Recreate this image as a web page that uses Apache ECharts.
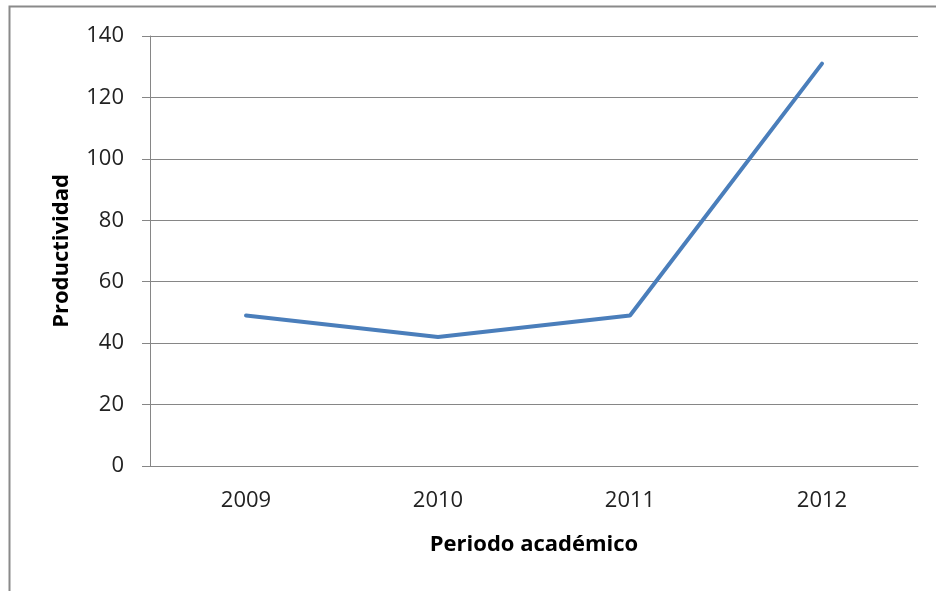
<!DOCTYPE html>
<html>
<head>
<meta charset="utf-8">
<script src="https://cdn.jsdelivr.net/npm/echarts@6/dist/echarts.min.js"></script>
<style>
  html, body { margin: 0; padding: 0; background: #fff; }
  #chart { width: 936px; height: 591px; }
</style>
</head>
<body>
<div id="chart"></div>
<script>
// datos del gráfico
const periodos = ['2009', '2010', '2011', '2012']
const productividad = [49, 42, 49, 131]
const yTicks = [0, 20, 40, 60, 80, 100, 120, 140]

let chart = echarts.init(document.getElementById('chart'))
chart.setOption({
  animation: false,
  graphic: [
    {
      type: 'polyline',
      shape: { points: [[9.5, 600], [9.5, 6.5], [940, 6.5]] },
      style: { stroke: '#8a8a8a', lineWidth: 2, fill: null }
    }
  ],
  grid: { left: 150, top: 36, width: 768, height: 430 },
  xAxis: {
    type: 'category',
    data: periodos,
    boundaryGap: true,
    name: 'Periodo académico',
    nameLocation: 'middle',
    nameGap: 68,
    nameTextStyle: { fontFamily: 'Open Sans', fontWeight: 'bold', fontSize: 22, color: '#000' },
    axisLine: { lineStyle: { color: '#868686', width: 1 } },
    axisTick: { show: false },
    axisLabel: { fontFamily: 'Open Sans', fontSize: 22, color: '#222', margin: 24 }
  },
  yAxis: {
    type: 'value',
    min: yTicks[0],
    max: yTicks[yTicks.length - 1],
    interval: 20,
    name: 'Productividad',
    nameLocation: 'middle',
    nameGap: 77,
    nameTextStyle: { fontFamily: 'Open Sans', fontWeight: 'bold', fontSize: 22, color: '#000' },
    axisLine: { show: true, lineStyle: { color: '#868686', width: 1 } },
    axisTick: { show: true, length: 8, lineStyle: { color: '#868686' } },
    axisLabel: { fontFamily: 'Open Sans', fontSize: 22, color: '#222', margin: 26 },
    splitLine: { lineStyle: { color: '#868686', width: 1 } }
  },
  series: [
    {
      type: 'line',
      data: productividad,
      symbol: 'none',
      lineStyle: { color: '#4a7ebb', width: 4, cap: 'round' }
    }
  ]
})
</script>
</body>
</html>
